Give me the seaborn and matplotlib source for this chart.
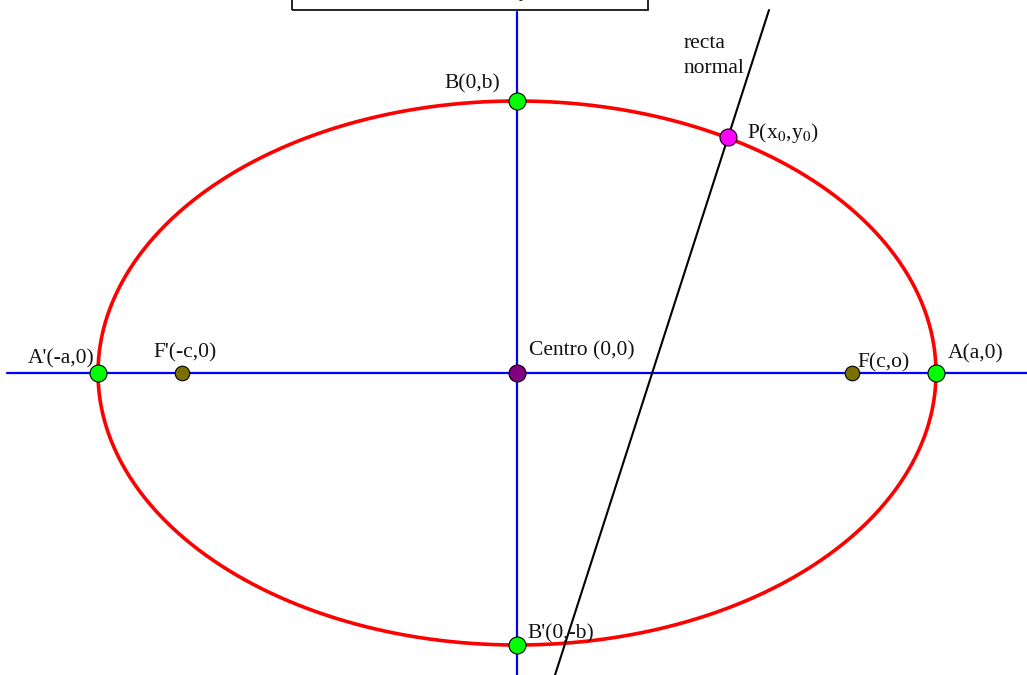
import numpy as np
import pandas as pd
import seaborn as sns
import matplotlib.pyplot as plt
from matplotlib.patches import Rectangle

sns.set_theme(style="white")
plt.rcParams['font.family'] = ['Liberation Serif', 'DejaVu Serif']
plt.rcParams['mathtext.fontset'] = 'stix'

# ellipse parameters (pixel-like units)
a = 419
b = 272
c = 335

# named points
point_names = ["A", "A'", "B", "B'", "F", "F'", "O", "P"]
point_x = [a, -a, 0, 0, c, -c, 0, 211]
point_y = [0, 0, b, -b, 0, 0, 0, 236]
point_colors = ["#00ff00", "#00ff00", "#00ff00", "#00ff00", "#7a7000", "#7a7000", "#800080", "#ff00ff"]
point_sizes = [150, 150, 150, 150, 110, 110, 150, 150]

labels = ["A(a,0)", "A'(-a,0)", "B(0,b)", "B'(0,-b)", "F(c,o)", "F'(-c,0)",
          "Centro (0,0)", r"P(x$_{0}$,y$_{0}$)", "recta", "normal"]
label_x = [431, -489, -73, 10, 340, -364, 12, 230, 167, 167]
label_y = [15, 10, 285, -265, 6, 16, 18, 235, 325, 300]

# normal line endpoints
normal_x = [252, 38]
normal_y = [363, -302]

t = np.linspace(0, 2 * np.pi, 721)
ell = pd.DataFrame({"x": a * np.cos(t), "y": b * np.sin(t)})

fig = plt.figure(figsize=(10.27, 6.75), dpi=100)
ax = fig.add_axes([0, 0, 1, 1])
ax.set_xlim(-517, 510)
ax.set_ylim(-302, 373)
ax.axis("off")

# axes lines
ax.plot([-510, 510], [0, 0], color="#0000ff", lw=1.6, zorder=1)
ax.plot([0, 0], [-302, 361], color="#0000ff", lw=1.6, zorder=1)

# ellipse
sns.lineplot(data=ell, x="x", y="y", sort=False, estimator=None, color="#ff0000",
             lw=2.6, ax=ax, zorder=2)

# normal line
sns.lineplot(x=normal_x, y=normal_y, sort=False, estimator=None, color="black",
             lw=1.5, ax=ax, zorder=3)

# points
for px, py, pc, ps in zip(point_x, point_y, point_colors, point_sizes):
    ax.scatter([px], [py], s=ps, color=pc, edgecolor="black", linewidth=0.8, zorder=5)

# labels
for lx, ly, lt in zip(label_x, label_y, labels):
    ax.text(lx, ly, lt, fontsize=15.5, color="#111111", ha="left", va="baseline",
            zorder=6)

# top box (cut off)
ax.add_patch(Rectangle((-225, 363), 356, 30, fill=False, edgecolor="black", lw=1.2, zorder=4))
ax.text(8, 377, "y", fontsize=15, style="italic", ha="center", va="baseline", zorder=6)

fig.savefig("out.png", dpi=100)
